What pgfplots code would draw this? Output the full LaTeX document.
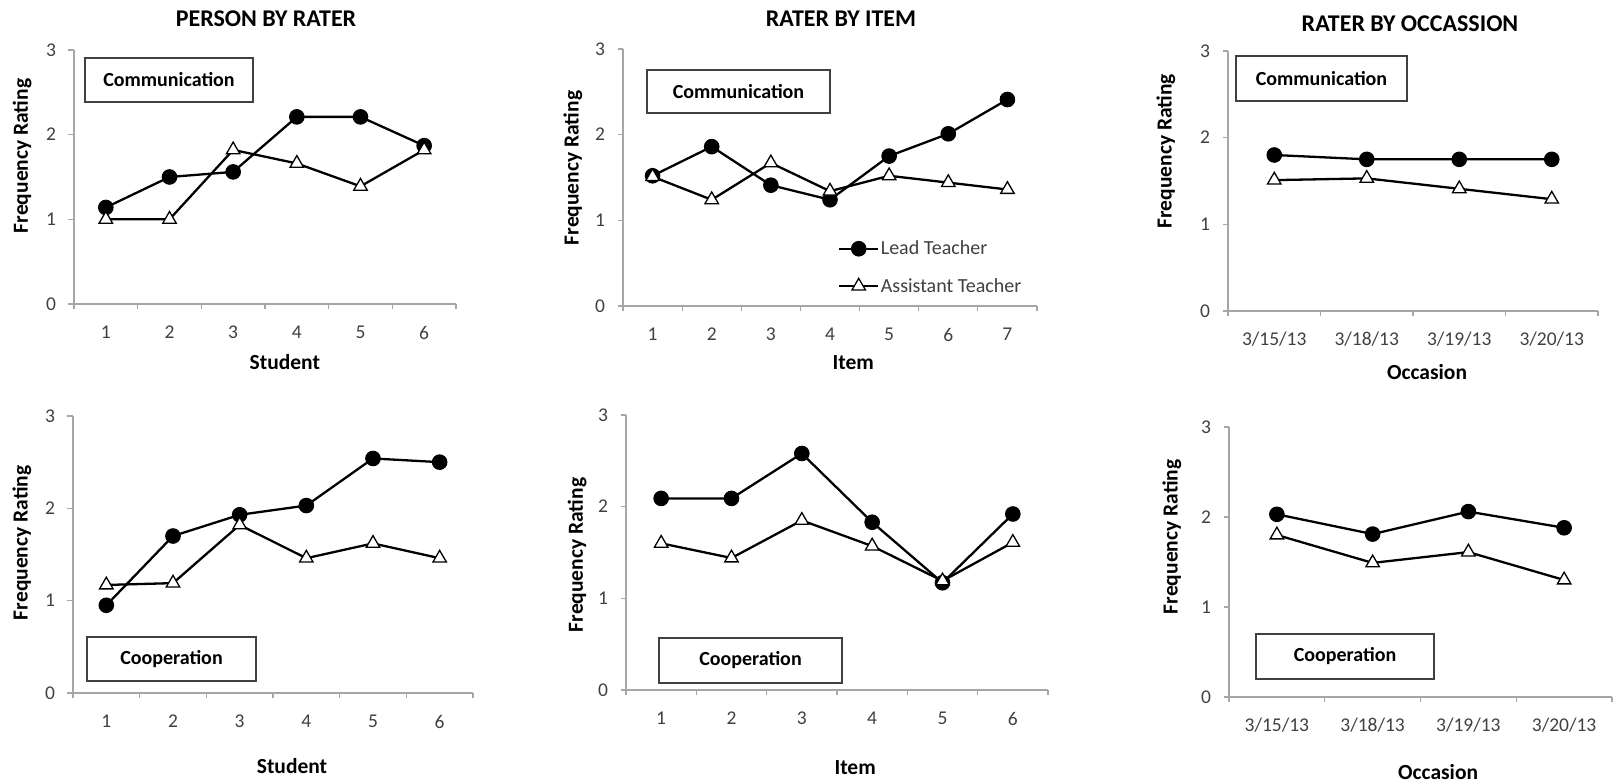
\documentclass[border=0pt]{standalone}
\usepackage{pgfplots}
\pgfplotsset{compat=1.18}
\usepackage{fontspec}
\setmainfont{Carlito}
\definecolor{axgray}{HTML}{A6A6A6}
\definecolor{tickgray}{HTML}{404040}
\definecolor{boxline}{HTML}{404040}
\newcommand{\tickfont}{\fontsize{19.5}{21}\selectfont}
\newcommand{\legfont}{\fontsize{20}{22}\selectfont}
\newcommand{\labfont}{\bfseries\fontsize{21.5}{24}\selectfont}
\newcommand{\titfont}{\bfseries\fontsize{24}{26}\selectfont}
\newcommand{\boxfont}{\bfseries\fontsize{20}{22}\selectfont}
\pgfplotsset{
  panel/.style={
    scale only axis, anchor=south west, clip=false,
    axis x line*=bottom, axis y line*=left,
    axis line style={axgray, line width=1.2pt, -},
    ymin=0, ymax=3, ytick={0,1,2,3}, minor ytick={0,1,2,3},
    tick align=outside, major tick length=0pt, minor tick length=5.5pt,
    minor tick style={axgray, line width=1.2pt},
    /pgf/number format/assume math mode=true,
    tick label style={font=\tickfont, text=tickgray},
    yticklabel style={anchor=center, xshift=-23pt},
    xticklabel style={anchor=center, yshift=-28.5pt},
    xlabel style={font=\labfont, anchor=center},
    ylabel style={font=\labfont, anchor=center},
    ylabel={Frequency Rating},
  },
  lead/.style={black, line width=2.3pt, mark=*, mark size=7.3pt, mark options={fill=black, solid, line width=1pt}},
  asst/.style={black, line width=2.3pt, mark=triangle*, mark size=7.8pt, mark options={fill=white, draw=black, line width=1.3pt, solid}},
}
\tikzset{tbox/.style={draw=boxline, line width=1.3pt, fill=white, font=\boxfont, inner sep=0pt}}
\begin{document}
\begin{tikzpicture}
\useasboundingbox (0pt,0pt) rectangle (1617pt,783pt);

% ---------- Panel 1: Person by rater, Communication ----------
\begin{axis}[panel, at={(74pt,479pt)}, width=382pt, height=254pt,
  xmin=0.5, xmax=6.5, xtick={1,...,6}, minor xtick={0.5,1.5,...,6.5},
  xlabel={Student},
  xlabel style={at={(axis description cs:0.552,-0.228)}},
  ylabel style={at={(axis description cs:-0.136,0.583)}}]
\addplot[lead] coordinates {(1,1.14) (2,1.50) (3,1.56) (4,2.21) (5,2.21) (6,1.87)};
\addplot[asst] coordinates {(1,1.00) (2,1.00) (3,1.82) (4,1.66) (5,1.39) (6,1.82)};
\end{axis}

% ---------- Panel 2: Rater by item, Communication ----------
\begin{axis}[panel, at={(623pt,477pt)}, width=414pt, height=257pt,
  xmin=0.5, xmax=7.5, xtick={1,...,7}, minor xtick={0.5,1.5,...,7.5},
  xlabel={Item},
  xlabel style={at={(axis description cs:0.556,-0.222)}},
  ylabel style={at={(axis description cs:-0.121,0.537)}},
  legend style={at={(axis description cs:0.519,0.150)}, anchor=west, draw=none, fill=none,
    inner sep=0pt, font=\legfont, text=tickgray, row sep=19pt, nodes={inner sep=1.5pt}},
  legend cell align=left,
  legend image code/.code={\draw[mark repeat=2, mark phase=2, #1] plot coordinates {(0pt,0pt) (19.5pt,0pt) (39pt,0pt)};}]
\addplot[lead] coordinates {(1,1.52) (2,1.86) (3,1.41) (4,1.24) (5,1.75) (6,2.01) (7,2.41)};
\addlegendentry{Lead Teacher}
\addplot[asst] coordinates {(1,1.51) (2,1.24) (3,1.67) (4,1.34) (5,1.52) (6,1.44) (7,1.36)};
\addlegendentry{Assistant Teacher}
\end{axis}

% ---------- Panel 3: Rater by occasion, Communication ----------
\begin{axis}[panel, at={(1228pt,472pt)}, width=370pt, height=260pt,
  xmin=0.5, xmax=4.5, xtick={1,2,3,4}, minor xtick={0.5,1.5,...,4.5},
  xticklabels={3/15/13,3/18/13,3/19/13,3/20/13},
  xlabel={Occasion},
  xlabel style={at={(axis description cs:0.538,-0.235)}},
  ylabel style={at={(axis description cs:-0.168,0.615)}}]
\addplot[lead] coordinates {(1,1.80) (2,1.75) (3,1.75) (4,1.75)};
\addplot[asst] coordinates {(1,1.51) (2,1.53) (3,1.41) (4,1.29)};
\end{axis}

% ---------- Panel 4: Person by rater, Cooperation ----------
\begin{axis}[panel, at={(73pt,90pt)}, width=400pt, height=277pt,
  xmin=0.5, xmax=6.5, xtick={1,...,6}, minor xtick={0.5,1.5,...,6.5},
  xlabel={Student},
  xlabel style={at={(axis description cs:0.5475,-0.264)}},
  ylabel style={at={(axis description cs:-0.1275,0.542)}}]
\addplot[lead] coordinates {(1,0.95) (2,1.70) (3,1.93) (4,2.03) (5,2.54) (6,2.50)};
\addplot[asst] coordinates {(1,1.17) (2,1.19) (3,1.82) (4,1.46) (5,1.62) (6,1.46)};
\end{axis}

% ---------- Panel 5: Rater by item, Cooperation ----------
\begin{axis}[panel, at={(626pt,93pt)}, width=422pt, height=275pt,
  xmin=0.5, xmax=6.5, xtick={1,...,6}, minor xtick={0.5,1.5,...,6.5},
  xlabel={Item},
  xlabel style={at={(axis description cs:0.543,-0.284)}},
  ylabel style={at={(axis description cs:-0.116,0.491)}}]
\addplot[lead] coordinates {(1,2.09) (2,2.09) (3,2.58) (4,1.83) (5,1.17) (6,1.92)};
\addplot[asst] coordinates {(1,1.60) (2,1.44) (3,1.85) (4,1.57) (5,1.19) (6,1.61)};
\end{axis}

% ---------- Panel 6: Rater by occasion, Cooperation ----------
\begin{axis}[panel, at={(1229pt,86pt)}, width=383pt, height=270pt,
  xmin=0.5, xmax=4.5, xtick={1,2,3,4}, minor xtick={0.5,1.5,...,4.5},
  xticklabels={3/15/13,3/18/13,3/19/13,3/20/13},
  xlabel={Occasion},
  xlabel style={at={(axis description cs:0.546,-0.278)}},
  ylabel style={at={(axis description cs:-0.149,0.593)}}]
\addplot[lead] coordinates {(1,2.03) (2,1.81) (3,2.06) (4,1.88)};
\addplot[asst] coordinates {(1,1.80) (2,1.49) (3,1.61) (4,1.30)};
\end{axis}

% ---------- Titles ----------
\node[font=\titfont] at (266pt,764pt) {PERSON BY RATER};
\node[font=\titfont] at (841pt,764pt) {RATER BY ITEM};
\node[font=\titfont] at (1410pt,759pt) {RATER BY OCCASSION};

% ---------- Text boxes ----------
\node[tbox, minimum width=168pt, minimum height=44pt] at (169pt,703pt) {Communication};
\node[tbox, minimum width=183pt, minimum height=43pt] at (738.5pt,691.5pt) {Communication};
\node[tbox, minimum width=171pt, minimum height=45pt] at (1321.5pt,704.5pt) {Communication};
\node[tbox, minimum width=169pt, minimum height=44pt] at (171.5pt,124pt) {Cooperation};
\node[tbox, minimum width=183pt, minimum height=45pt] at (750.5pt,122.5pt) {Cooperation};
\node[tbox, minimum width=178pt, minimum height=45pt] at (1345pt,126.5pt) {Cooperation};
\end{tikzpicture}
\end{document}
